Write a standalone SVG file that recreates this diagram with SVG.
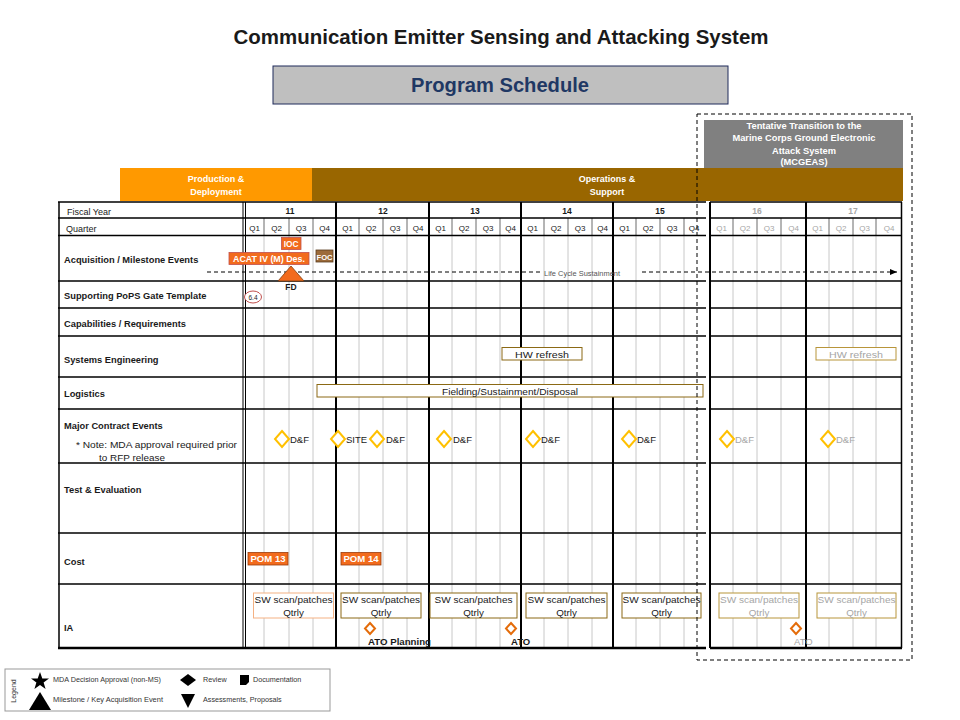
<svg xmlns="http://www.w3.org/2000/svg" width="960" height="720" viewBox="0 0 960 720">
<style>
text{font-family:"Liberation Sans",Arial,sans-serif;fill:#1a1a1a}
.lbl{font-size:9.3px;font-weight:bold}
.lbn{font-size:9px}
.yr{font-size:8.5px;font-weight:bold;text-anchor:middle}
.q{font-size:8px;text-anchor:middle}
.g{fill:#a6a6a6}
.wb{fill:#fff;font-weight:bold;text-anchor:middle}
.hl{stroke:#000;stroke-width:1.5}
.vl{stroke:#000;stroke-width:2}
.gl{stroke:#c8c8c8;stroke-width:1}
.ql{stroke:#444;stroke-width:0.8}
.dia{fill:#fff;stroke:#ffc000;stroke-width:2}
.ato{fill:#fff;stroke:#e46c0a;stroke-width:2}
.sw{fill:#fff;stroke:#8b6914;stroke-width:1}
.sm{font-size:9.8px;text-anchor:middle}
.df{font-size:9.5px}
.lg{font-size:7.2px;fill:#333}
</style>
<defs>
<marker id="arr" markerWidth="8" markerHeight="8" refX="7" refY="4" orient="auto" markerUnits="userSpaceOnUse">
<path d="M0,1 L7,4 L0,7 Z" fill="#000"/>
</marker>
</defs>
<rect width="960" height="720" fill="#fff"/>

<g id="title">
<text x="501" y="44" font-size="21" font-weight="bold" text-anchor="middle" textLength="535" lengthAdjust="spacingAndGlyphs" fill="#000">Communication Emitter Sensing and Attacking System</text>
</g>
<g id="program-schedule">
<rect x="273" y="66" width="455" height="38" fill="#bfbfbf" stroke="#1f2a5a" stroke-width="1"/>
<text x="500" y="92" font-size="20" font-weight="bold" text-anchor="middle" textLength="178" lengthAdjust="spacingAndGlyphs" style="fill:#1f3864">Program Schedule</text>
</g>

<g id="phase-production">
<rect x="120" y="168" width="192" height="33" fill="#ff9900"/>
<text class="wb" x="216" y="182" font-size="9">Production &amp;</text>
<text class="wb" x="216" y="194.5" font-size="9">Deployment</text>
</g>
<g id="phase-operations">
<rect x="312" y="168" width="591" height="33" fill="#996600"/>
<text class="wb" x="607" y="182" font-size="9">Operations &amp;</text>
<text class="wb" x="607" y="194.5" font-size="9">Support</text>
</g>
<g id="mcgeas">
<rect x="704" y="120" width="199" height="48" fill="#808080"/>
<text class="wb" x="804" y="129" font-size="9.3">Tentative Transition to the</text>
<text class="wb" x="804" y="141" font-size="9.3">Marine Corps Ground Electronic</text>
<text class="wb" x="804" y="154" font-size="9.3">Attack System</text>
<text class="wb" x="804" y="165" font-size="9.3">(MCGEAS)</text>
</g>

<g id="grid">
<g class="gl">
<line x1="264" y1="236" x2="264" y2="648"/><line x1="289" y1="236" x2="289" y2="648"/><line x1="313" y1="236" x2="313" y2="648"/>
<line x1="359" y1="236" x2="359" y2="648"/><line x1="383" y1="236" x2="383" y2="648"/><line x1="407" y1="236" x2="407" y2="648"/>
<line x1="452" y1="236" x2="452" y2="648"/><line x1="476" y1="236" x2="476" y2="648"/><line x1="500" y1="236" x2="500" y2="648"/>
<line x1="544" y1="236" x2="544" y2="648"/><line x1="568" y1="236" x2="568" y2="648"/><line x1="592" y1="236" x2="592" y2="648"/>
<line x1="636" y1="236" x2="636" y2="648"/><line x1="660" y1="236" x2="660" y2="648"/><line x1="684" y1="236" x2="684" y2="648"/>
<line x1="733" y1="236" x2="733" y2="648"/><line x1="757" y1="236" x2="757" y2="648"/><line x1="781" y1="236" x2="781" y2="648"/>
<line x1="829" y1="236" x2="829" y2="648"/><line x1="853" y1="236" x2="853" y2="648"/><line x1="876" y1="236" x2="876" y2="648"/>
</g>
<g class="ql">
<line x1="264" y1="218" x2="264" y2="236"/><line x1="289" y1="218" x2="289" y2="236"/><line x1="313" y1="218" x2="313" y2="236"/>
<line x1="359" y1="218" x2="359" y2="236"/><line x1="383" y1="218" x2="383" y2="236"/><line x1="407" y1="218" x2="407" y2="236"/>
<line x1="452" y1="218" x2="452" y2="236"/><line x1="476" y1="218" x2="476" y2="236"/><line x1="500" y1="218" x2="500" y2="236"/>
<line x1="544" y1="218" x2="544" y2="236"/><line x1="568" y1="218" x2="568" y2="236"/><line x1="592" y1="218" x2="592" y2="236"/>
<line x1="636" y1="218" x2="636" y2="236"/><line x1="660" y1="218" x2="660" y2="236"/><line x1="684" y1="218" x2="684" y2="236"/>
<line x1="733" y1="218" x2="733" y2="236"/><line x1="757" y1="218" x2="757" y2="236"/><line x1="781" y1="218" x2="781" y2="236"/>
<line x1="829" y1="218" x2="829" y2="236"/><line x1="853" y1="218" x2="853" y2="236"/><line x1="876" y1="218" x2="876" y2="236"/>
</g>
<g class="hl">
<line x1="58" y1="202" x2="706" y2="202"/><line x1="710" y1="202" x2="902" y2="202"/>
<line x1="58" y1="218" x2="706" y2="218"/><line x1="710" y1="218" x2="902" y2="218"/>
<line x1="58" y1="235.5" x2="706" y2="235.5"/><line x1="710" y1="235.5" x2="902" y2="235.5"/>
<line x1="58" y1="281" x2="706" y2="281"/><line x1="710" y1="281" x2="902" y2="281"/>
<line x1="58" y1="308" x2="706" y2="308"/><line x1="710" y1="308" x2="902" y2="308"/>
<line x1="58" y1="336" x2="706" y2="336"/><line x1="710" y1="336" x2="902" y2="336"/>
<line x1="58" y1="377" x2="706" y2="377"/><line x1="710" y1="377" x2="902" y2="377"/>
<line x1="58" y1="409" x2="706" y2="409"/><line x1="710" y1="409" x2="902" y2="409"/>
<line x1="58" y1="463" x2="706" y2="463"/><line x1="710" y1="463" x2="902" y2="463"/>
<line x1="58" y1="533" x2="706" y2="533"/><line x1="710" y1="533" x2="902" y2="533"/>
<line x1="58" y1="584" x2="706" y2="584"/><line x1="710" y1="584" x2="902" y2="584"/>
</g>
<line x1="58" y1="648" x2="706" y2="648" stroke="#000" stroke-width="2.5"/>
<line x1="710" y1="648" x2="902" y2="648" stroke="#000" stroke-width="2.5"/>
<line x1="59" y1="202" x2="59" y2="648" stroke="#000" stroke-width="1.5"/>
<line x1="243" y1="202" x2="243" y2="648" stroke="#000" stroke-width="1"/>
<line x1="245.5" y1="202" x2="245.5" y2="648" stroke="#000" stroke-width="1"/>
<g class="vl">
<line x1="336" y1="202" x2="336" y2="648"/>
<line x1="429" y1="202" x2="429" y2="648"/>
<line x1="521" y1="202" x2="521" y2="648"/>
<line x1="613" y1="202" x2="613" y2="648"/>
<line x1="710" y1="202" x2="710" y2="648"/>
<line x1="806" y1="202" x2="806" y2="648"/>
</g>
<line x1="901.5" y1="202" x2="901.5" y2="648" stroke="#000" stroke-width="1.5"/>
</g>

<g id="row-labels">
<text class="lbn" x="67" y="214.5">Fiscal Year</text>
<text class="lbn" x="66" y="231.5">Quarter</text>
<text class="lbl" x="64" y="263">Acquisition / Milestone Events</text>
<text class="lbl" x="64" y="299">Supporting PoPS Gate Template</text>
<text class="lbl" x="64" y="327">Capabilities / Requirements</text>
<text class="lbl" x="64" y="363">Systems Engineering</text>
<text class="lbl" x="64" y="397">Logistics</text>
<text class="lbl" x="64" y="429">Major Contract Events</text>
<text class="lbn" x="76" y="448" textLength="161" lengthAdjust="spacingAndGlyphs">* Note: MDA approval required prior</text>
<text class="lbn" x="99" y="461" textLength="66" lengthAdjust="spacingAndGlyphs">to RFP release</text>
<text class="lbl" x="64" y="493">Test &amp; Evaluation</text>
<text class="lbl" x="64" y="565">Cost</text>
<text class="lbl" x="64" y="631">IA</text>
</g>

<g id="years">
<text class="yr" x="290" y="214">11</text>
<text class="yr" x="383" y="214">12</text>
<text class="yr" x="475" y="214">13</text>
<text class="yr" x="567" y="214">14</text>
<text class="yr" x="660" y="214">15</text>
<text class="yr g" x="757" y="214" font-weight="normal">16</text>
<text class="yr g" x="853" y="214" font-weight="normal">17</text>
</g>
<g id="quarters">
<text class="q" x="254.5" y="231">Q1</text><text class="q" x="276.5" y="231">Q2</text><text class="q" x="301" y="231">Q3</text><text class="q" x="324.5" y="231">Q4</text>
<text class="q" x="347.5" y="231">Q1</text><text class="q" x="371" y="231">Q2</text><text class="q" x="395" y="231">Q3</text><text class="q" x="418" y="231">Q4</text>
<text class="q" x="440.5" y="231">Q1</text><text class="q" x="464" y="231">Q2</text><text class="q" x="488" y="231">Q3</text><text class="q" x="510.5" y="231">Q4</text>
<text class="q" x="532.5" y="231">Q1</text><text class="q" x="556" y="231">Q2</text><text class="q" x="580" y="231">Q3</text><text class="q" x="602.5" y="231">Q4</text>
<text class="q" x="624.5" y="231">Q1</text><text class="q" x="648" y="231">Q2</text><text class="q" x="672" y="231">Q3</text><text class="q" x="694" y="231">Q4</text>
<text class="q g" x="721.5" y="231">Q1</text><text class="q g" x="745" y="231">Q2</text><text class="q g" x="769" y="231">Q3</text><text class="q g" x="793.5" y="231">Q4</text>
<text class="q g" x="817.5" y="231">Q1</text><text class="q g" x="841" y="231">Q2</text><text class="q g" x="864.5" y="231">Q3</text><text class="q g" x="889" y="231">Q4</text>
</g>

<g id="connectors">
<line x1="207" y1="272" x2="540" y2="272" stroke="#000" stroke-width="1" stroke-dasharray="4,3"/>
<line x1="642" y1="272" x2="897" y2="272" stroke="#000" stroke-width="1" stroke-dasharray="4,3" marker-end="url(#arr)"/>
</g>
<g id="life-cycle-label">
<text x="544" y="275.5" font-size="7.2" textLength="76" lengthAdjust="spacingAndGlyphs" style="fill:#555">Life Cycle Sustainment</text>
</g>

<g id="acat">
<rect x="229" y="252.5" width="80" height="12" fill="#f26b1d" stroke="#c0504d" stroke-width="0.8"/>
<text class="wb" x="269" y="262" font-size="8.3" textLength="72" lengthAdjust="spacingAndGlyphs">ACAT IV (M) Des.</text>
</g>
<g id="ioc">
<rect x="281.5" y="237.5" width="19.5" height="12" fill="#f26b1d" stroke="#c0504d" stroke-width="0.8"/>
<text class="wb" x="291.2" y="247" font-size="8.3">IOC</text>
</g>
<g id="foc">
<rect x="316" y="250" width="17" height="12" fill="#9c6b3a" stroke="#5a3c1e" stroke-width="0.8"/>
<text class="wb" x="324.5" y="259.5" font-size="8" textLength="16" lengthAdjust="spacingAndGlyphs">FOC</text>
</g>
<g id="fd">
<path d="M291,266 L304,281 L278,281 Z" fill="#f26b1d" stroke="#7f3f10" stroke-width="0.8"/>
<text x="291" y="289.5" font-size="8.5" font-weight="bold" text-anchor="middle">FD</text>
</g>
<g id="pops-6-4">
<ellipse cx="253" cy="297" rx="8.5" ry="6" fill="#fff" stroke="#c0504d" stroke-width="1"/>
<text x="253" y="299.5" font-size="6.5" text-anchor="middle">6.4</text>
</g>

<g id="hw-refresh-14">
<rect x="502" y="347.5" width="80" height="12.5" class="sw"/>
<text class="sm" x="542" y="357.5" font-size="9.5" textLength="54" lengthAdjust="spacingAndGlyphs">HW refresh</text>
</g>
<g id="hw-refresh-17">
<rect x="816" y="347.5" width="80" height="12.5" fill="#fff" stroke="#b8953a" stroke-width="1"/>
<text class="sm g" x="856" y="357.5" font-size="9.5" textLength="54" lengthAdjust="spacingAndGlyphs">HW refresh</text>
</g>
<g id="fielding">
<rect x="317" y="384.5" width="386" height="12.5" class="sw"/>
<text class="sm" x="510" y="394.5" font-size="9.5" textLength="136" lengthAdjust="spacingAndGlyphs">Fielding/Sustainment/Disposal</text>
</g>

<g id="contract-events">
<g id="df-11"><path class="dia" d="M282,431 L289,439 L282,447 L275,439 Z"/><text class="df" x="290" y="442.5">D&amp;F</text></g>
<g id="site-12"><path class="dia" d="M338,431 L345,439 L338,447 L331,439 Z"/><text class="df" x="346" y="442.5">SITE</text></g>
<g id="df-12"><path class="dia" d="M377,431 L384,439 L377,447 L370,439 Z"/><text class="df" x="386" y="442.5">D&amp;F</text></g>
<g id="df-13"><path class="dia" d="M444,431 L451,439 L444,447 L437,439 Z"/><text class="df" x="453" y="442.5">D&amp;F</text></g>
<g id="df-14"><path class="dia" d="M533,431 L540,439 L533,447 L526,439 Z"/><text class="df" x="541" y="442.5">D&amp;F</text></g>
<g id="df-15"><path class="dia" d="M629,431 L636,439 L629,447 L622,439 Z"/><text class="df" x="637" y="442.5">D&amp;F</text></g>
<g id="df-16"><path class="dia" d="M727,431 L734,439 L727,447 L720,439 Z"/><text class="df g" x="735" y="442.5">D&amp;F</text></g>
<g id="df-17"><path class="dia" d="M828,431 L835,439 L828,447 L821,439 Z"/><text class="df g" x="836" y="442.5">D&amp;F</text></g>
</g>

<g id="pom-13">
<rect x="248" y="552.5" width="40" height="12.5" fill="#f26b1d" stroke="#9c3c0a" stroke-width="0.8"/>
<text class="wb" x="268" y="562.3" font-size="9" textLength="35" lengthAdjust="spacingAndGlyphs">POM 13</text>
</g>
<g id="pom-14">
<rect x="341" y="552.5" width="40" height="12.5" fill="#f26b1d" stroke="#9c3c0a" stroke-width="0.8"/>
<text class="wb" x="361" y="562.3" font-size="9" textLength="35" lengthAdjust="spacingAndGlyphs">POM 14</text>
</g>

<g id="ia-sw">
<g id="sw-11"><rect x="253.5" y="593" width="80" height="25" fill="#fff" stroke="#f4b183" stroke-width="1"/><text class="sm" x="293.5" y="602.5" textLength="78" lengthAdjust="spacingAndGlyphs">SW scan/patches</text><text class="sm" x="293.5" y="615.5">Qtrly</text></g>
<g id="sw-12"><rect x="341" y="593" width="80" height="25" class="sw"/><text class="sm" x="381" y="602.5" textLength="78" lengthAdjust="spacingAndGlyphs">SW scan/patches</text><text class="sm" x="381" y="615.5">Qtrly</text></g>
<g id="sw-13"><rect x="430" y="593" width="87" height="25" class="sw"/><text class="sm" x="473.5" y="602.5" textLength="78" lengthAdjust="spacingAndGlyphs">SW scan/patches</text><text class="sm" x="473.5" y="615.5">Qtrly</text></g>
<g id="sw-14"><rect x="526" y="593" width="81" height="25" class="sw"/><text class="sm" x="566.5" y="602.5" textLength="78" lengthAdjust="spacingAndGlyphs">SW scan/patches</text><text class="sm" x="566.5" y="615.5">Qtrly</text></g>
<g id="sw-15"><rect x="622" y="593" width="79" height="25" class="sw"/><text class="sm" x="661.5" y="602.5" textLength="78" lengthAdjust="spacingAndGlyphs">SW scan/patches</text><text class="sm" x="661.5" y="615.5">Qtrly</text></g>
<g id="sw-16"><rect x="719" y="593" width="80" height="25" fill="#fff" stroke="#b8953a" stroke-width="1"/><text class="sm g" x="759" y="602.5" textLength="78" lengthAdjust="spacingAndGlyphs">SW scan/patches</text><text class="sm g" x="759" y="615.5">Qtrly</text></g>
<g id="sw-17"><rect x="817" y="593" width="79" height="25" fill="#fff" stroke="#b8953a" stroke-width="1"/><text class="sm g" x="856.5" y="602.5" textLength="78" lengthAdjust="spacingAndGlyphs">SW scan/patches</text><text class="sm g" x="856.5" y="615.5">Qtrly</text></g>
</g>
<g id="ato">
<g id="ato-planning"><path class="ato" d="M370,623 L375,628.5 L370,634 L365,628.5 Z"/><text x="368" y="644.5" font-size="9.5" font-weight="bold" textLength="63" lengthAdjust="spacingAndGlyphs">ATO  Planning</text></g>
<g id="ato-13"><path class="ato" d="M511,623 L516,628.5 L511,634 L506,628.5 Z"/><text x="511" y="644.5" font-size="9.5" font-weight="bold">ATO</text></g>
<g id="ato-16"><path class="ato" d="M796,623 L801,628.5 L796,634 L791,628.5 Z"/><text class="g" x="794" y="644.5" font-size="9.5">ATO</text></g>
</g>

<g id="transition-frame">
<rect x="697" y="114" width="215" height="546" fill="none" stroke="#000" stroke-width="1" stroke-dasharray="4,3"/>
</g>

<g id="legend">
<rect x="5" y="669" width="325" height="42" fill="#fff" stroke="#999" stroke-width="1"/>
<text x="16" y="691" font-size="7" text-anchor="middle" transform="rotate(-90 16 691)" style="fill:#333">Legend</text>
<path d="M40,672 L42.3,678.5 L49,678.6 L43.6,682.6 L45.6,689 L40,685.1 L34.4,689 L36.4,682.6 L31,678.6 L37.7,678.5 Z" fill="#000"/>
<text class="lg" x="53" y="682" textLength="108" lengthAdjust="spacingAndGlyphs">MDA Decision Approval (non-MS)</text>
<path d="M40,692 L51,710 L29,710 Z" fill="#000"/>
<text class="lg" x="53" y="702" textLength="110" lengthAdjust="spacingAndGlyphs">Milestone / Key Acquisition Event</text>
<path d="M188,674 L196,680 L188,686 L180,680 Z" fill="#000"/>
<text class="lg" x="203" y="682">Review</text>
<path d="M240,675 L249,675 L249,682 L246,685 L240,685 Z" fill="#000"/>
<text class="lg" x="253" y="682">Documentation</text>
<path d="M181,694 L195,694 L188,708 Z" fill="#000"/>
<text class="lg" x="203" y="702">Assessments, Proposals</text>
</g>
</svg>
